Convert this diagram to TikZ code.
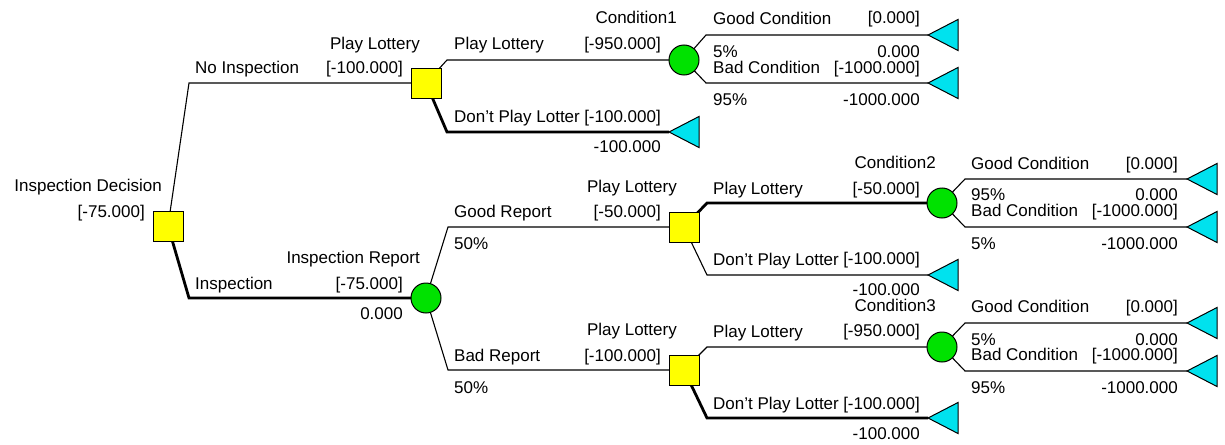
\documentclass[tikz,border=0pt]{standalone}
\usepackage{fontspec}
\setmainfont{Liberation Sans}
\usetikzlibrary{backgrounds}
\definecolor{decfill}{RGB}{255,255,0}
\definecolor{chfill}{RGB}{0,226,0}
\definecolor{termfill}{RGB}{0,226,238}
\begin{document}
\begin{tikzpicture}[x=1pt,y=-1pt,
  dec/.style={draw=black,line width=1pt,fill=decfill,minimum size=30pt,inner sep=0pt},
  chance/.style={circle,draw=black,line width=1pt,fill=chfill,minimum size=30pt,inner sep=0pt},
  term/.style={draw=black,line width=1pt,fill=termfill},
  lab/.style={inner sep=0pt,font=\fontsize{17}{20}\selectfont},
  labL/.style={lab,anchor=base west},
  labR/.style={lab,anchor=base east},
  edge/.style={draw=black,line width=1.1pt},
  best/.style={draw=black,line width=2.8pt}]
\useasboundingbox (0,0) rectangle (1225,444);

% decision and chance nodes
\node[dec] (D0) at (168,226) {};
\node[dec] (D1) at (426,83) {};
\node[chance] (C0) at (426,298) {};
\node[chance] (C1) at (684,60) {};
\node[dec] (D2) at (684,227) {};
\node[dec] (D3) at (684,370) {};
\node[chance] (C2) at (942,203) {};
\node[chance] (C3) at (942,347) {};

% end points (tips of the payoff triangles)
\coordinate (T1) at (669,132);
\coordinate (T1g) at (928,35);
\coordinate (T1b) at (928,83);
\coordinate (T2) at (928,275);
\coordinate (T3) at (928,418);
\coordinate (T2g) at (1187,179);
\coordinate (T2b) at (1187,227);
\coordinate (T3g) at (1187,323);
\coordinate (T3b) at (1187,371);

% branches, behind the nodes
\begin{pgfonlayer}{background}
\draw[edge] (D0.center) -- ([xshift=21pt]D0.center |- D1.center) -- (D1.center);
\draw[best] (D0.center) -- ([xshift=21pt]D0.center |- C0.center) -- (C0.center);
\draw[edge] (D1.center) -- ([xshift=21pt]D1.center |- C1.center) -- (C1.center);
\draw[best] (D1.center) -- ([xshift=21pt]D1.center |- T1) -- (T1);
\draw[edge] (C1.center) -- ([xshift=22pt]C1.center |- T1g) -- (T1g);
\draw[edge] (C1.center) -- ([xshift=22pt]C1.center |- T1b) -- (T1b);
\draw[edge] (C0.center) -- ([xshift=22pt]C0.center |- D2.center) -- (D2.center);
\draw[edge] (C0.center) -- ([xshift=22pt]C0.center |- D3.center) -- (D3.center);
\draw[best] (D2.center) -- ([xshift=23pt]D2.center |- C2.center) -- (C2.center);
\draw[edge] (D2.center) -- ([xshift=23pt]D2.center |- T2) -- (T2);
\draw[edge] (D3.center) -- ([xshift=23pt]D3.center |- C3.center) -- (C3.center);
\draw[best] (D3.center) -- ([xshift=23pt]D3.center |- T3) -- (T3);
\draw[edge] (C2.center) -- ([xshift=23pt]C2.center |- T2g) -- (T2g);
\draw[edge] (C2.center) -- ([xshift=23pt]C2.center |- T2b) -- (T2b);
\draw[edge] (C3.center) -- ([xshift=23pt]C3.center |- T3g) -- (T3g);
\draw[edge] (C3.center) -- ([xshift=23pt]C3.center |- T3b) -- (T3b);
\end{pgfonlayer}

% payoff triangles
\foreach \t in {T1,T1g,T1b,T2,T3,T2g,T2b,T3g,T3b}
  \filldraw[term] (\t) -- ++(30,-15.5) -- ++(0,31) -- cycle;

% root
\node[labR] (n0a) at (162,191) {Inspection Decision};
\node[labR] (n0b) at (145,217) {[-75.000]};

% No Inspection branch
\node[labL] (b1a) at (195,74) {No Inspection};
\node[labR] (n1a) at (420,49) {Play Lottery};
\node[labR] (n1b) at (403,74) {[-100.000]};

% Inspection branch
\node[labL] (b2a) at (195,289) {Inspection};
\node[labR] (n2a) at (420,263) {Inspection Report};
\node[labR] (n2b) at (403,289) {[-75.000]};
\node[labR] (n2c) at (403,319) {0.000};

% from Play Lottery (no inspection)
\node[labL] (b3a) at (454,49) {Play Lottery};
\node[labR] (n3a) at (677,24) {Condition1};
\node[labR] (n3b) at (661,49) {[-950.000]};
\node[labL] (b4a) at (454,122) {Don't Play Lotter};
\node[labR] (b4b) at (661,122) {[-100.000]};
\node[labR] (b4c) at (661,152) {-100.000};

% Condition1
\node[labL] (b5a) at (713,25) {Good Condition};
\node[labR] (b5b) at (920,24) {[0.000]};
\node[labL] (b5c) at (713,58) {5\%};
\node[labR] (b5d) at (920,58) {0.000};
\node[labL] (b6a) at (713,74) {Bad Condition};
\node[labR] (b6b) at (920,74) {[-1000.000]};
\node[labL] (b6c) at (713,105) {95\%};
\node[labR] (b6d) at (920,105) {-1000.000};

% Inspection Report
\node[labL] (b7a) at (454,217) {Good Report};
\node[labL] (b7c) at (454,249) {50\%};
\node[labR] (n7a) at (677,192) {Play Lottery};
\node[labR] (n7b) at (661,217) {[-50.000]};
\node[labL] (b8a) at (454,361) {Bad Report};
\node[labL] (b8c) at (454,393) {50\%};
\node[labR] (n8a) at (677,335) {Play Lottery};
\node[labR] (n8b) at (661,361) {[-100.000]};

% Play Lottery after a good report
\node[labL] (b9a) at (713,194) {Play Lottery};
\node[labR] (n9a) at (936,168) {Condition2};
\node[labR] (n9b) at (920,194) {[-50.000]};
\node[labL] (b10a) at (713,265) {Don't Play Lotter};
\node[labR] (b10b) at (920,264) {[-100.000]};
\node[labR] (b10c) at (920,295) {-100.000};

% Play Lottery after a bad report
\node[labL] (b11a) at (713,337) {Play Lottery};
\node[labR] (n11a) at (936,311) {Condition3};
\node[labR] (n11b) at (920,336) {[-950.000]};
\node[labL] (b12a) at (713,409) {Don't Play Lotter};
\node[labR] (b12b) at (920,409) {[-100.000]};
\node[labR] (b12c) at (920,439) {-100.000};

% Condition2
\node[labL] (b13a) at (971,169) {Good Condition};
\node[labR] (b13b) at (1178,169) {[0.000]};
\node[labL] (b13c) at (971,200) {95\%};
\node[labR] (b13d) at (1178,200) {0.000};
\node[labL] (b14a) at (971,216) {Bad Condition};
\node[labR] (b14b) at (1178,216) {[-1000.000]};
\node[labL] (b14c) at (971,249) {5\%};
\node[labR] (b14d) at (1178,249) {-1000.000};

% Condition3
\node[labL] (b15a) at (971,312) {Good Condition};
\node[labR] (b15b) at (1178,312) {[0.000]};
\node[labL] (b15c) at (971,345) {5\%};
\node[labR] (b15d) at (1178,345) {0.000};
\node[labL] (b16a) at (971,360) {Bad Condition};
\node[labR] (b16b) at (1178,360) {[-1000.000]};
\node[labL] (b16c) at (971,393) {95\%};
\node[labR] (b16d) at (1178,393) {-1000.000};
\end{tikzpicture}
\end{document}
